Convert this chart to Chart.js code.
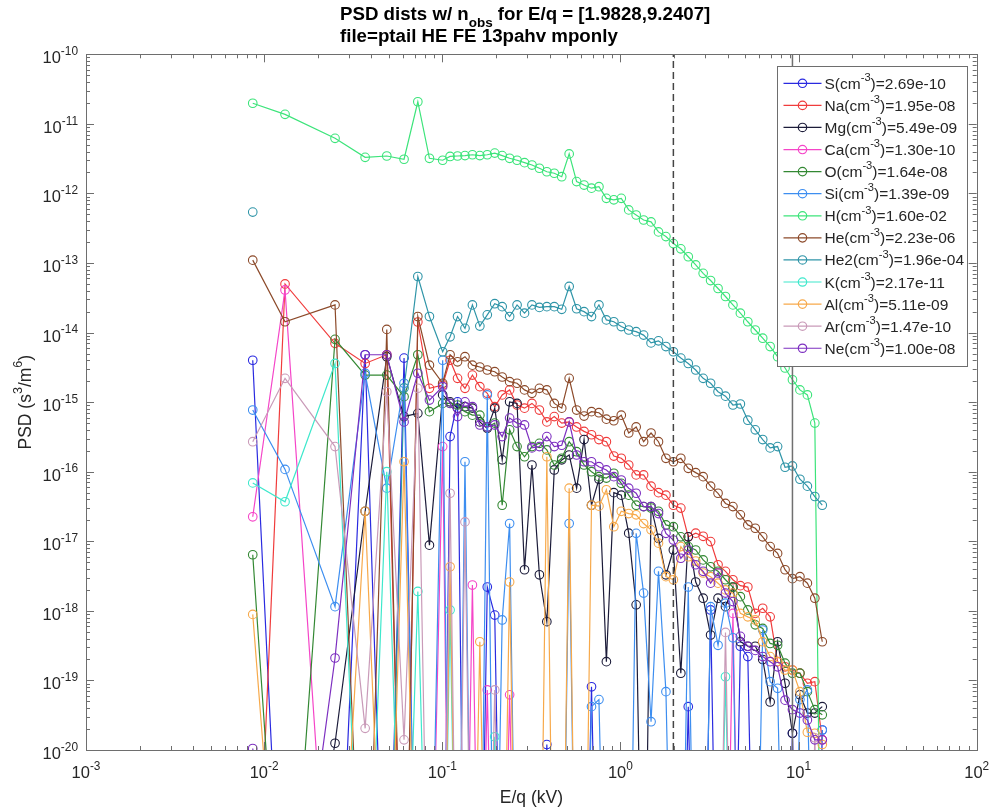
<!DOCTYPE html>
<html>
<head>
<meta charset="utf-8">
<title>PSD dists</title>
<script src="https://cdn.jsdelivr.net/npm/chart.js@4.4.1/dist/chart.umd.min.js"></script>
<style>
	body { margin: 0; background: #fff; }
	#wrap { width: 995px; height: 811px; position: relative; }
</style>
</head>
<body>
<div id="wrap"><canvas id="myChart"></canvas></div>
<script>
// bins with (almost) nothing in them sit far below the 1e-20 floor
const LOW = 1e-24;

const energy = [0.00863, 0.0131, 0.025, 0.0369, 0.0488, 0.061, 0.0729, 0.0847, 0.1005, 0.1106,
	0.1218, 0.1341, 0.1476, 0.1625, 0.1789, 0.197, 0.2169, 0.2388, 0.2629, 0.2895,
	0.3187, 0.3509, 0.3863, 0.4253, 0.4683, 0.5156, 0.5677, 0.625, 0.6881, 0.7576,
	0.8341, 0.9183, 1.0111, 1.1132, 1.2256, 1.3494, 1.4857, 1.6357, 1.8009, 1.9828,
	2.1831, 2.4036, 2.6464, 2.9137, 3.208, 3.532, 3.8887, 4.2815, 4.7139, 5.19,
	5.7142, 6.2913, 6.9267, 7.6263, 8.3966, 9.2407, 10.178, 11.206, 12.338, 13.584];

const names = ['S', 'Na', 'Mg', 'Ca', 'O', 'Si', 'H', 'He', 'He2', 'K', 'Al', 'Ar', 'Ne'];
const densities = ['2.69e-10', '1.95e-08', '5.49e-09', '1.30e-10', '1.64e-08', '1.39e-09', '1.60e-02',
	'2.23e-06', '1.96e-04', '2.17e-11', '5.11e-09', '1.47e-10', '1.00e-08'];
const colors = ['#2a2ae0', '#f03c3c', '#1c1c3a', '#f545c8', '#338833', '#3d8ef0', '#3ce47a',
	'#8c4a2a', '#2f95a8', '#3ee8cc', '#f7a94a', '#c99ab8', '#7d2fc0'];

const eBand = [1.9828, 9.2407];

const psdS = [4.0e-15, LOW, LOW, 4.8e-15, LOW, 4.3e-15, LOW, LOW, LOW, 3.2e-16,
	1.01e-15, LOW, LOW, LOW, 2.2e-18, 8.7e-19, LOW, LOW, LOW, LOW,
	LOW, LOW, 1.2e-20, LOW, LOW, LOW, LOW, LOW, 8.1e-20, LOW,
	LOW, LOW, LOW, LOW, LOW, LOW, LOW, LOW, LOW, LOW,
	LOW, 4.2e-20, LOW, LOW, 1.03e-18, LOW, LOW, LOW, 3.1e-19, 2.2e-19,
	LOW, LOW, LOW, LOW, LOW, 1.74e-20, LOW, LOW, LOW, 1.94e-20];
const psdNa = [LOW, 5.0e-14, 7.0e-15, 3.6e-15, 4.8e-15, LOW, 1.42e-14, 1.58e-15, 1.76e-15, 4.0e-15,
	2.2e-15, 1.58e-15, 2.45e-15, 1.67e-15, 1.34e-15, 8.6e-16, 1.27e-15, 1.5e-15, 9.1e-16, 8.2e-16,
	9.6e-16, 7.7e-16, 5.2e-16, 6.2e-16, 5.0e-16, 5.2e-16, 4.4e-16, 3.8e-16, 3.4e-16, 2.9e-16,
	2.7e-16, 1.68e-16, 1.56e-16, 1.25e-16, 9.0e-17, 9.0e-17, 6.2e-17, 5.0e-17, 4.6e-17, 3.3e-17,
	3.0e-17, 1.16e-17, 1.31e-17, 1.18e-17, 9.9e-18, 4.6e-18, 3.7e-18, 2.8e-18, 2.3e-18, 2.2e-18,
	9.2e-19, 1.09e-18, 8.2e-19, 1.86e-19, 1.57e-19, 1.41e-19, 1.27e-19, 9.1e-20, 9.6e-20, 1.4e-20];
const psdMg = [LOW, LOW, 1.25e-20, 2.7e-17, 4.5e-15, 6.2e-16, 6.9e-16, 8.8e-18, 1.27e-15, 1.01e-15,
	8.2e-16, 8.6e-16, 8.2e-16, 5.2e-16, 4.2e-16, 8.2e-16, 1.48e-16, 1.01e-15, 9.6e-16, 3.9e-18,
	1.25e-16, 3.3e-18, 7.0e-19, 1.06e-16, 1.48e-16, 1.74e-16, 5.8e-17, 2.9e-16, 3.3e-17, 7.8e-17,
	1.86e-19, 5.0e-17, 4.6e-17, 1.31e-17, 1.22e-18, LOW, 3.15e-17, 1.1e-17, 3.3e-18, 7.5e-18,
	1.27e-19, 1.16e-17, 2.6e-18, 1.52e-18, 4.5e-19, 1.52e-18, 1.15e-18, 2.2e-18, 3.6e-19, 3.1e-19,
	3.1e-19, 2.0e-19, 4.9e-20, 3.6e-19, 9.1e-20, 1.74e-20, 6.2e-20, 3.4e-20, 3.4e-20, 4.2e-20];
const psdCa = [2.25e-17, 4.1e-14, LOW, LOW, LOW, LOW, LOW, LOW, 2.3e-16, LOW,
	LOW, LOW, 2.35e-18, LOW, 7.3e-20, LOW, LOW, 6.2e-20, LOW, LOW,
	LOW, LOW, LOW, LOW, LOW, LOW, LOW, LOW, LOW, LOW,
	LOW, LOW, LOW, LOW, LOW, LOW, LOW, LOW, LOW, LOW,
	LOW, LOW, LOW, LOW, LOW, LOW, LOW, 9.2e-19, LOW, LOW,
	LOW, LOW, LOW, LOW, LOW, LOW, LOW, LOW, LOW, 1.4e-20];
const psdO = [6.4e-18, LOW, 8.0e-15, 2.45e-15, 2.45e-15, 1.2e-15, 4.8e-15, 7.3e-16, 9.6e-16, 9.6e-16,
	9.1e-16, 7.3e-16, 6.5e-16, 6.5e-16, 4.4e-16, 5.0e-16, 3.3e-17, 4.0e-16, 2.3e-16, 1.64e-16,
	2.3e-16, 2.56e-16, 2.06e-16, 1.25e-16, 1.56e-16, 2.7e-16, 1.94e-16, 1.25e-16, 1.0e-16, 8.5e-17,
	8.1e-17, 9.5e-17, 6.8e-17, 4.6e-17, 3.3e-17, 3.15e-17, 3.0e-17, 2.7e-17, 1.72e-17, 1.62e-17,
	1.16e-17, 8.4e-18, 7.5e-18, 5.4e-18, 4.3e-18, 3.7e-18, 2.8e-18, 2.2e-18, 1.6e-18, 1.03e-18,
	6.3e-19, 5.6e-19, 3.4e-19, 3.2e-19, 1.77e-19, 1.27e-19, 1.27e-19, 6.9e-20, 3.8e-20, 3.2e-20];
const psdSi = [7.7e-16, 1.08e-16, 1.15e-18, 2.6e-15, 5.8e-17, 1.87e-15, LOW, LOW, 4.0e-15, LOW,
	LOW, 1.39e-16, LOW, LOW, 1.27e-15, LOW, 7.4e-19, 1.8e-17, LOW, LOW,
	LOW, LOW, LOW, LOW, LOW, 1.8e-17, LOW, LOW, 4.2e-20, 5.3e-20,
	LOW, LOW, LOW, LOW, 1.3e-17, 1.8e-18, 2.55e-20, 3.7e-18, 6.9e-20, LOW,
	LOW, 2.2e-18, LOW, LOW, 1.15e-18, 3.2e-19, 1.29e-18, 4.1e-19, LOW, LOW,
	LOW, 5.3e-19, 9.6e-20, 7.7e-20, LOW, LOW, 5.3e-20, 7.3e-20, LOW, 1.94e-20];
const psdH = [1.98e-11, 1.37e-11, 6.2e-12, 3.3e-12, 3.45e-12, 3.1e-12, 2.08e-11, 3.2e-12, 3.0e-12, 3.4e-12,
	3.45e-12, 3.5e-12, 3.6e-12, 3.5e-12, 3.6e-12, 3.8e-12, 3.5e-12, 3.2e-12, 3.0e-12, 2.77e-12,
	2.56e-12, 2.3e-12, 2.05e-12, 1.95e-12, 1.74e-12, 3.7e-12, 1.48e-12, 1.32e-12, 1.19e-12, 1.25e-12,
	8.5e-13, 8.1e-13, 8.5e-13, 5.8e-13, 4.9e-13, 4.15e-13, 3.9e-13, 2.8e-13, 2.4e-13, 1.9e-13,
	1.6e-13, 1.23e-13, 9.4e-14, 7.1e-14, 5.6e-14, 4.3e-14, 3.3e-14, 2.5e-14, 1.9e-14, 1.43e-14,
	1.09e-14, 8.3e-15, 6.3e-15, 4.5e-15, 3.1e-15, 2.1e-15, 1.5e-15, 1.27e-15, 5.0e-16, LOW];
const psdHe = [1.1e-13, 1.43e-14, 2.5e-14, LOW, 1.11e-14, LOW, 1.7e-14, 3.4e-15, 1.87e-15, 4.8e-15,
	3.8e-15, 4.5e-15, 3.4e-15, 3.2e-15, 2.9e-15, 2.74e-15, 2.3e-15, 1.97e-15, 1.87e-15, 1.5e-15,
	1.34e-15, 1.58e-15, 1.5e-15, 9.6e-16, 8.2e-16, 2.2e-15, 7.7e-16, 6.3e-16, 7.3e-16, 7.05e-16,
	5.7e-16, 5.4e-16, 6.5e-16, 3.6e-16, 4.4e-16, 2.7e-16, 3.6e-16, 2.7e-16, 1.56e-16, 1.39e-16,
	1.56e-16, 1.12e-16, 9.7e-17, 8.5e-17, 6.2e-17, 4.9e-17, 3.5e-17, 3.15e-17, 2.4e-17, 1.72e-17,
	1.54e-17, 1.16e-17, 8.4e-18, 6.7e-18, 3.9e-18, 2.9e-18, 3.1e-18, 2.5e-18, 1.52e-18, 3.6e-19];
const psdHe2 = [5.4e-13, null, null, null, LOW, 1.6e-15, 6.4e-14, 1.7e-14, 5.3e-15, 8.7e-15,
	1.7e-14, 1.15e-14, 2.5e-14, 1.24e-14, 1.8e-14, 2.6e-14, 2.36e-14, 1.7e-14, 2.5e-14, 1.9e-14,
	2.5e-14, 2.3e-14, 2.36e-14, 2.36e-14, 2.16e-14, 4.6e-14, 2.2e-14, 2.0e-14, 1.7e-14, 2.5e-14,
	1.52e-14, 1.43e-14, 1.22e-14, 1.09e-14, 1.03e-14, 9.2e-15, 7.1e-15, 7.6e-15, 6.3e-15, 5.3e-15,
	4.3e-15, 3.6e-15, 2.9e-15, 2.2e-15, 1.87e-15, 1.41e-15, 1.22e-15, 9.1e-16, 9.4e-16, 5.5e-16,
	4.0e-16, 2.9e-16, 2.2e-16, 2.3e-16, 1.16e-16, 1.21e-16, 7.8e-17, 6.2e-17, 4.4e-17, 3.3e-17];
const psdK = [6.9e-17, 3.7e-17, 3.6e-15, LOW, 1.0e-16, LOW, 1.9e-18, LOW, LOW, 1.03e-18,
	LOW, LOW, LOW, LOW, LOW, 1.55e-20, LOW, LOW, LOW, LOW,
	LOW, LOW, LOW, LOW, LOW, LOW, LOW, LOW, LOW, LOW,
	LOW, LOW, LOW, LOW, LOW, LOW, LOW, LOW, LOW, LOW,
	LOW, LOW, LOW, LOW, LOW, LOW, 1.13e-19, LOW, LOW, LOW,
	LOW, LOW, LOW, LOW, LOW, LOW, LOW, LOW, LOW, LOW];
const psdAl = [8.9e-19, LOW, LOW, 2.7e-17, LOW, 1.39e-16, LOW, LOW, LOW, 4.3e-18,
	LOW, LOW, LOW, 3.6e-19, LOW, LOW, LOW, 2.6e-18, LOW, LOW,
	LOW, LOW, 1.64e-16, LOW, LOW, 5.8e-17, LOW, LOW, 3.3e-17, 3.2e-17,
	5.5e-17, 1.62e-17, 2.7e-17, 2.5e-17, 2.4e-17, 1.8e-17, 1.46e-17, 9.4e-18, 3.1e-18, 2.8e-18,
	8.4e-18, 6.0e-18, 5.2e-18, 3.5e-18, 3.1e-18, 2.5e-18, 2.0e-18, 1.8e-18, 9.2e-19, 8.2e-19,
	7.4e-19, 3.6e-19, 2.2e-19, 1.86e-19, 1.41e-19, 1.41e-19, 6.9e-20, 1.8e-20, 1.74e-20, 1.2e-20];
const psdAr = [2.7e-16, 2.2e-15, 2.3e-16, 2.05e-20, 1.41e-15, 1.4e-20, 1.58e-15, LOW, LOW, 4.9e-17,
	LOW, 1.9e-17, LOW, LOW, LOW, 7.3e-20, LOW, LOW, LOW, LOW,
	LOW, LOW, LOW, LOW, LOW, LOW, LOW, LOW, LOW, LOW,
	LOW, LOW, LOW, LOW, LOW, LOW, LOW, LOW, LOW, LOW,
	LOW, LOW, LOW, LOW, LOW, LOW, 4.9e-19, LOW, LOW, LOW,
	LOW, LOW, LOW, LOW, LOW, LOW, LOW, LOW, 1.5e-20, LOW];
const psdNe = [1.05e-20, LOW, 2.1e-19, 4.8e-15, 4.8e-15, 5.2e-16, 2.6e-15, 1.07e-15, 1.67e-15, 9.6e-16,
	6.2e-16, 1.01e-15, 8.6e-16, 4.7e-16, 4.4e-16, 4.7e-16, 3.2e-16, 5.9e-16, 5.0e-16, 4.7e-16,
	2.2e-16, 2.3e-16, 3.2e-16, 2.3e-16, 2.4e-16, 5.2e-16, 1.74e-16, 1.39e-16, 1.39e-16, 1.18e-16,
	1.06e-16, 8.5e-17, 7.6e-17, 5.8e-17, 4.9e-17, 3.15e-17, 3.15e-17, 2.5e-17, 1.3e-17, 1.04e-17,
	5.7e-18, 7.5e-18, 4.6e-18, 3.7e-18, 2.5e-18, 3.5e-18, 1.8e-18, 1.36e-18, 4.3e-19, 3.1e-19,
	2.7e-19, 2.2e-19, 1.86e-19, 1.57e-19, 5.2e-20, 3.8e-20, 3.4e-20, 2.7e-20, 1.4e-20, 1.4e-20];

const series = [psdS, psdNa, psdMg, psdCa, psdO, psdSi, psdH, psdHe, psdHe2, psdK, psdAl, psdAr, psdNe];

const FONT = '"Liberation Sans", Arial, Helvetica, sans-serif';
const AXIS_GRAY = '#6e6e6e';
const TEXT_GRAY = '#262626';

// widths and drawing of [text, 'n'|'sup'|'sub'] runs
function runWidth(ctx, parts, size, bold) {
	let w = 0;
	for (let i = 0; i < parts.length; i++) {
		const s = parts[i][1] === 'n' ? size : size * 0.72;
		ctx.font = (bold ? 'bold ' : '') + s + 'px ' + FONT;
		w += ctx.measureText(parts[i][0]).width;
	}
	return w;
}

function drawRun(ctx, parts, x, y, size, bold) {
	let cx = x;
	for (let i = 0; i < parts.length; i++) {
		const kind = parts[i][1];
		const s = kind === 'n' ? size : size * 0.72;
		ctx.font = (bold ? 'bold ' : '') + s + 'px ' + FONT;
		let dy = 0;
		if (kind === 'sup') dy = -size * 0.5;
		if (kind === 'sub') dy = size * 0.38;
		ctx.fillText(parts[i][0], cx, y + dy);
		cx += ctx.measureText(parts[i][0]).width;
	}
	return cx - x;
}

function drawPow(ctx, exp, x, y, align) {
	const parts = [['10', 'n'], [exp, 'sup']];
	const w = runWidth(ctx, parts, 16.5, false);
	const left = align === 'right' ? x - w : x - w / 2;
	drawRun(ctx, parts, left, y, 16.5, false);
}

const decorations = {
	id: 'decorations',
	afterDatasetsDraw(chart) {
		const ctx = chart.ctx;
		const a = chart.chartArea;
		const xs = chart.scales.x;
		const ys = chart.scales.y;
		ctx.save();
		ctx.textBaseline = 'alphabetic';
		ctx.textAlign = 'left';

		// axes box with inward ticks
		ctx.strokeStyle = AXIS_GRAY;
		ctx.lineWidth = 1;
		ctx.strokeRect(Math.round(a.left) + 0.5, Math.round(a.top) + 0.5, Math.round(a.right - a.left), Math.round(a.bottom - a.top));

		ctx.beginPath();
		for (let n = -3; n <= 2; n++) {
			for (let k = 1; k <= 9; k++) {
				const v = k * Math.pow(10, n);
				if (v > 100.0001) break;
				const px = Math.round(xs.getPixelForValue(v)) + 0.5;
				const len = k === 1 ? 8 : 4;
				ctx.moveTo(px, a.bottom);
				ctx.lineTo(px, a.bottom - len);
				ctx.moveTo(px, a.top);
				ctx.lineTo(px, a.top + len);
			}
		}
		for (let n = -20; n <= -10; n++) {
			for (let k = 1; k <= 9; k++) {
				const v = k * Math.pow(10, n);
				if (n === -10 && k > 1) break;
				const py = Math.round(ys.getPixelForValue(v)) + 0.5;
				const len = k === 1 ? 8 : 4;
				ctx.moveTo(a.left, py);
				ctx.lineTo(a.left + len, py);
				ctx.moveTo(a.right, py);
				ctx.lineTo(a.right - len, py);
			}
		}
		ctx.stroke();

		// tick labels
		ctx.fillStyle = TEXT_GRAY;
		for (let n = -3; n <= 2; n++) {
			drawPow(ctx, String(n), xs.getPixelForValue(Math.pow(10, n)), a.bottom + 28, 'center');
		}
		for (let n = -20; n <= -10; n++) {
			drawPow(ctx, String(n), a.left - 8, ys.getPixelForValue(Math.pow(10, n)) + 9, 'right');
		}

		// axis titles
		const xt = [['E/q (kV)', 'n']];
		drawRun(ctx, xt, (a.left + a.right) / 2 - runWidth(ctx, xt, 17.5, false) / 2, 803, 17.5, false);

		const yt = [['PSD (s', 'n'], ['3', 'sup'], ['/m', 'n'], ['6', 'sup'], [')', 'n']];
		ctx.save();
		ctx.translate(31, (a.top + a.bottom) / 2);
		ctx.rotate(-Math.PI / 2);
		drawRun(ctx, yt, -runWidth(ctx, yt, 17.5, false) / 2, 0, 17.5, false);
		ctx.restore();

		// title, two left-aligned lines
		ctx.fillStyle = '#000';
		drawRun(ctx, [['PSD dists w/ n', 'n'], ['obs', 'sub'], [' for E/q = [1.9828,9.2407]', 'n']], 340, 19.5, 18.7, true);
		drawRun(ctx, [['file=ptail HE FE 13pahv mponly', 'n']], 340, 41.5, 18.7, true);

		// legend box
		const lx = Math.round(a.right - 200) + 0.5;
		const ly = Math.round(a.top + 12) + 0.5;
		const lw = 190;
		const lh = 300;
		ctx.fillStyle = '#fff';
		ctx.fillRect(lx, ly, lw, lh);
		ctx.strokeStyle = AXIS_GRAY;
		ctx.strokeRect(lx, ly, lw, lh);
		for (let i = 0; i < names.length; i++) {
			const y = ly + 16.8 + i * 22.08;
			ctx.strokeStyle = colors[i];
			ctx.lineWidth = 1.2;
			ctx.beginPath();
			ctx.moveTo(lx + 6, y);
			ctx.lineTo(lx + 44, y);
			ctx.stroke();
			ctx.beginPath();
			ctx.arc(lx + 25, y, 4.2, 0, Math.PI * 2);
			ctx.stroke();
			ctx.fillStyle = TEXT_GRAY;
			drawRun(ctx, [[names[i] + '(cm', 'n'], ['-3', 'sup'], [')=' + densities[i], 'n']], lx + 47, y + 5.5, 15.5, false);
		}
		ctx.restore();
	}
};

const datasets = names.map(function (name, i) {
	return {
		label: name,
		data: energy.map(function (e, j) {
			return { x: e, y: series[i][j] };
		}),
		borderColor: colors[i],
		backgroundColor: 'rgba(0,0,0,0)',
		borderWidth: 1.2,
		pointStyle: 'circle',
		pointRadius: 4.3,
		pointBorderWidth: 1.1,
		pointBackgroundColor: 'rgba(0,0,0,0)',
		pointBorderColor: colors[i],
		tension: 0,
		order: names.length - i + 1,
	};
});

datasets.push({
	label: 'lo',
	data: [{ x: eBand[0], y: 1e-20 }, { x: eBand[0], y: 1e-10 }],
	borderColor: '#444444',
	borderDash: [7, 4],
	borderWidth: 1.5,
	pointRadius: 0,
	order: 0,
});
datasets.push({
	label: 'hi',
	data: [{ x: eBand[1], y: 1e-20 }, { x: eBand[1], y: 1e-10 }],
	borderColor: '#707070',
	borderWidth: 1.5,
	pointRadius: 0,
	order: 0,
});

const config = {
	type: 'line',
	data: { datasets: datasets },
	options: {
		responsive: true,
		maintainAspectRatio: false,
		animation: false,
		layout: { padding: { left: 86, right: 18.3, top: 54.3, bottom: 61 } },
		scales: {
			x: { type: 'logarithmic', min: 1e-3, max: 1e2, display: false },
			y: { type: 'logarithmic', min: 1e-20, max: 1e-10, display: false },
		},
		plugins: {
			legend: { display: false },
			title: { display: false },
			tooltip: { enabled: false },
		},
	},
	plugins: [decorations],
};

const myChart = new Chart(document.getElementById('myChart'), config);
</script>
</body>
</html>
